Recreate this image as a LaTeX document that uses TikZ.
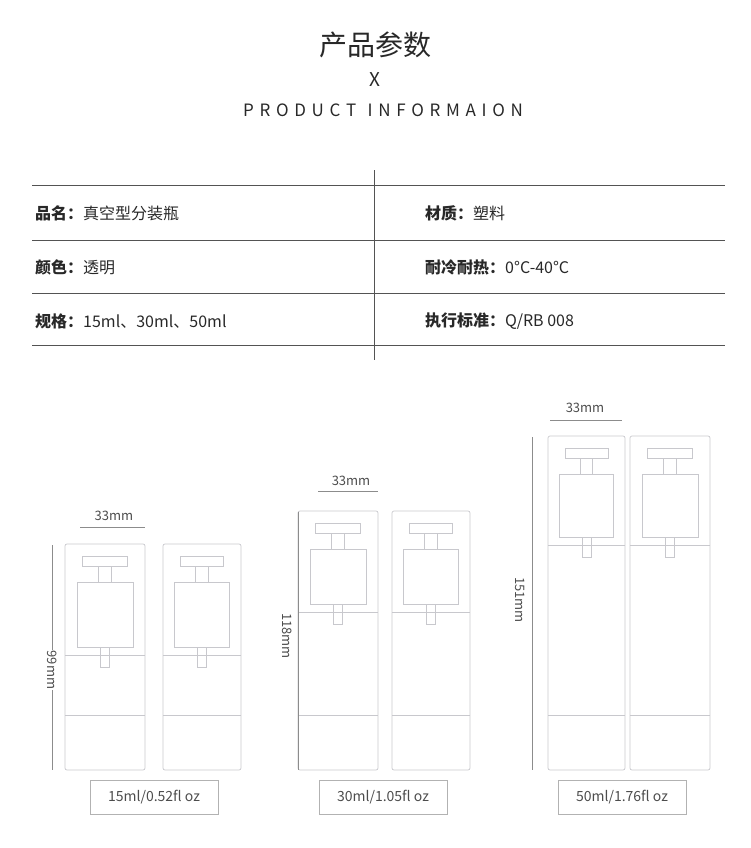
\documentclass[tikz,border=0pt]{standalone}
\usepackage{fontspec}
\setmainfont{Noto Sans CJK SC}
\newfontfamily\cjk{Noto Sans CJK SC}
\usetikzlibrary{positioning}
\definecolor{ink}{RGB}{40,40,40}
\definecolor{bline}{RGB}{200,200,205}
\tikzset{
  rule/.style={draw=ink!80,line width=0.6pt},
  cell/.style={anchor=west,font=\fontsize{16}{18}\selectfont,text=ink,inner sep=0pt},
  dim/.style={draw=black!45,line width=0.5pt},
  dimlabel/.style={font=\fontsize{13}{15}\selectfont,text=black!70,inner sep=1pt},
  sizebox/.style={draw=black!30,minimum width=128pt,minimum height=34pt,font=\fontsize{14}{16}\selectfont,text=black!70},
  glass/.style={draw=bline,line width=0.7pt}
}
% bottle: left, width, top, cap bottom, bottom
\newcommand{\bottle}[5]{%
  \draw[glass,rounded corners=2pt] (#1,#3) rectangle (#1+#2,#5);
  \draw[glass] (#1,#4) -- (#1+#2,#4);
  \draw[glass] (#1,#5-55) -- (#1+#2,#5-55);
  \draw[glass] (#1+0.22*#2,#3+12) rectangle (#1+0.78*#2,#3+22);
  \draw[glass] (#1+0.42*#2,#3+22) rectangle (#1+0.58*#2,#3+38);
  \draw[glass] (#1+0.15*#2,#3+38) rectangle (#1+0.85*#2,#4-8);
  \draw[glass] (#1+0.44*#2,#4-8) rectangle (#1+0.56*#2,#4+12);
}
\begin{document}
\begin{tikzpicture}[x=1pt,y=-1pt]
\useasboundingbox (0,0) rectangle (750,848);
% heading
\node[font=\fontsize{28}{30}\selectfont,text=ink] (title) at (375,45) {产品参数};
\node[font=\fontsize{19}{21}\selectfont,text=ink] (cross) at (375,80) {X};
\node[font=\fontsize{17}{19}\selectfont,text=ink] (sub) at (383,110) {P\,\,R\,\,O\,\,D\,\,U\,\,C\,\,T\ \ \ I\,\,N\,\,F\,\,O\,\,R\,\,M\,\,A\,\,I\,\,O\,\,N};
% table
\foreach \y in {185,240,293,345}
  \draw[rule] (32,\y) -- (725,\y);
\draw[rule] (374,170) -- (374,360);
\node[cell] (r1l) at (35,213) {\textbf{品名：}真空型分装瓶};
\node[cell] (r2l) at (35,267) {\textbf{颜色：}透明};
\node[cell] (r3l) at (35,321) {\textbf{规格：}15ml、30ml、50ml};
\node[cell] (r1r) at (425,213) {\textbf{材质：}塑料};
\node[cell] (r2r) at (425,267) {\textbf{耐冷耐热：}0°C-40°C};
\node[cell] (r3r) at (425,321) {\textbf{执行标准：}Q/RB 008};
% bottles
\bottle{65}{80}{544}{655}{770}
\bottle{163}{78}{544}{655}{770}
\bottle{298}{80}{511}{612}{770}
\bottle{392}{78}{511}{612}{770}
\bottle{548}{77}{436}{545}{770}
\bottle{630}{80}{436}{545}{770}
% width dimensions
\draw[dim] (80,527) -- (145,527);
\node[dimlabel] (w1) at (114,516) {33mm};
\draw[dim] (318,491) -- (378,491);
\node[dimlabel] (w2) at (351,481) {33mm};
\draw[dim] (550,420) -- (622,420);
\node[dimlabel] (w3) at (585,408) {33mm};
% height dimensions
\draw[dim] (52,545) -- (52,770);
\node[dimlabel,rotate=-90,fill=white] (h1) at (52,670) {99mm};
\draw[dim] (298,512) -- (298,770);
\node[dimlabel,rotate=-90,fill=white] (h2) at (287,636) {118mm};
\draw[dim] (532,437) -- (532,770);
\node[dimlabel,rotate=-90,fill=white] (h3) at (520,600) {151mm};
% size labels
\node[sizebox] (s1) at (154,797) {15ml/0.52fl oz};
\node[sizebox] (s2) at (383,797) {30ml/1.05fl oz};
\node[sizebox] (s3) at (622,797) {50ml/1.76fl oz};
\end{tikzpicture}
\end{document}
